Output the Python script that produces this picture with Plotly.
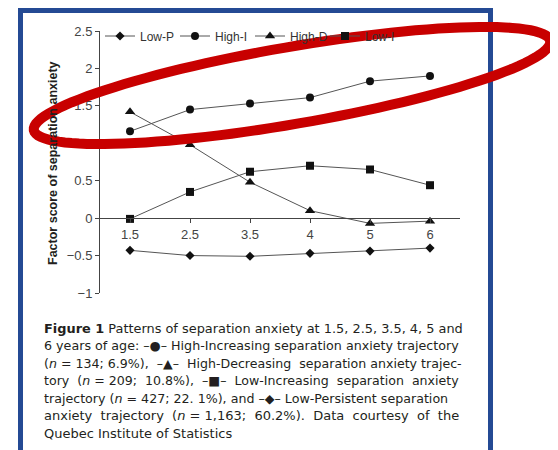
import numpy as np
import plotly.graph_objects as go

ages = ["1.5", "2.5", "3.5", "4", "5", "6"]
low_p = [-0.43, -0.50, -0.51, -0.47, -0.44, -0.40]
high_i = [1.16, 1.45, 1.53, 1.61, 1.83, 1.90]
high_d = [1.42, 0.98, 0.48, 0.10, -0.07, -0.04]
low_i = [-0.01, 0.35, 0.62, 0.70, 0.65, 0.44]
y_ticks = [-1, -0.5, 0, 0.5, 1, 1.5, 2, 2.5]
y_ticklabels = ["\u22121", "\u22120.5", "0", "0.5", "1", "1.5", "2", "2.5"]

# the page body has an 8px default margin, so the figure is drawn 8px in
OFF = 8
W, H = 558 - OFF, 450 - OFF
# plot area on screen: x 100..460, y 31..293
ML, MT = 100 - OFF, 31 - OFF
MR, MB = W - (460 - OFF), H - (293 - OFF)
PW, PH = W - ML - MR, H - MT - MB


def px(sx):
    return (sx - OFF - ML) / PW


def py(sy):
    return (H - MB - (sy - OFF)) / PH


fig = go.Figure()
series = [
    ("Low-P", low_p, "diamond", 7),
    ("High-I", high_i, "circle", 8),
    ("High-D", high_d, "triangle-up", 9),
    ("Low-I", low_i, "square", 8),
]
for name, vals, sym, sz in series:
    fig.add_trace(go.Scatter(
        x=ages, y=vals, name=name, mode="lines+markers",
        line=dict(color="#555555", width=1),
        marker=dict(symbol=sym, size=sz, color="#111111"),
    ))

axis_font = dict(family="Liberation Sans, Arial, sans-serif", size=13, color="#444444")

fig.update_layout(
    width=W, height=H,
    margin=dict(l=ML, r=MR, t=MT, b=MB, pad=0, autoexpand=False),
    paper_bgcolor="white", plot_bgcolor="white",
    showlegend=True,
    legend=dict(orientation="h", x=px(100), y=py(36), yanchor="middle", xanchor="left",
                font=dict(family="Liberation Sans, Arial, sans-serif", size=12, color="#333333"),
                bgcolor="rgba(0,0,0,0)", itemwidth=30, tracegroupgap=0,
                entrywidth=30, entrywidthmode="pixels"),
    xaxis=dict(type="category", range=[-0.5, 5.5], showgrid=False, zeroline=False,
               showline=True, linecolor="#444444", linewidth=1,
               ticks="outside", ticklen=4, tickcolor="#444444",
               anchor="free", position=py(218.4),
               tickfont=axis_font),
    yaxis=dict(range=[-1, 2.5], tickvals=y_ticks, ticktext=y_ticklabels,
               showgrid=False, zeroline=False, showline=True, linecolor="#444444", linewidth=1,
               ticks="outside", ticklen=4, tickcolor="#444444", tickfont=axis_font),
)

fig.add_annotation(
    text="<b>Factor score of separation anxiety</b>", textangle=-90,
    xref="paper", yref="paper", x=px(53), y=py(163), showarrow=False,
    xanchor="center", yanchor="middle",
    font=dict(family="Liberation Sans, Arial, sans-serif", size=12.5, color="#231f20"),
)

S = "\u00a0"  # extra (justifying) space
caption_lines = [
    "<b>Figure 1</b> Patterns of separation anxiety at 1.5, 2.5, 3.5, 4, 5 and",
    "6 years of age: \u2013\u25cf\u2013 High-Increasing separation anxiety trajectory",
    f"(<i>n</i> = 134; 6.9%),{S} \u2013\u25b2\u2013 {S}High-Decreasing {S}separation anxiety trajec-",
    f"tory{S} (<i>n</i> = 209;{S} 10.8%),{S} \u2013\u25a0\u2013{S} Low-Increasing{S} separation{S} anxiety",
    "trajectory (<i>n</i> = 427; 22. 1%), and \u2013\u25c6\u2013 Low-Persistent separation",
    f"anxiety{S} trajectory{S} (<i>n</i> = 1,163;{S} 60.2%).{S} Data{S} courtesy{S} of{S} the",
    "Quebec Institute of Statistics",
]
line_size = [12.9, 12.7, 12.6, 12.6, 12.65, 13, 13]
line_y = [328, 345.5, 363, 380.5, 398, 415.5, 433]
for t, sz, yy in zip(caption_lines, line_size, line_y):
    fig.add_annotation(
        text=t, xref="paper", yref="paper", x=px(42), y=py(yy), showarrow=False,
        xanchor="left", yanchor="middle",
        font=dict(family="DejaVu Sans, sans-serif", size=sz, color="#231f20"),
    )

# blue frame
fig.add_shape(type="rect", xref="paper", yref="paper",
              x0=px(20.5), x1=px(490.5), y0=py(10.5), y1=py(480),
              line=dict(color="#244a94", width=5), fillcolor="rgba(0,0,0,0)", layer="above")

# red ellipse (hand-drawn highlight)
cx, cy, a, b, th = 292.0, 85.5, 262.0, 38.5, np.deg2rad(9.8)
t = np.linspace(0, 2 * np.pi, 121)
ex = cx + a * np.cos(t) * np.cos(th) + b * np.sin(t) * np.sin(th)
ey = cy - a * np.cos(t) * np.sin(th) + b * np.sin(t) * np.cos(th)
path = "M " + " L ".join(f"{px(x):.5f},{py(y):.5f}" for x, y in zip(ex, ey)) + " Z"
fig.add_shape(type="path", xref="paper", yref="paper", path=path,
              line=dict(color="#c80000", width=10), layer="above")

fig.write_html("out.html")
